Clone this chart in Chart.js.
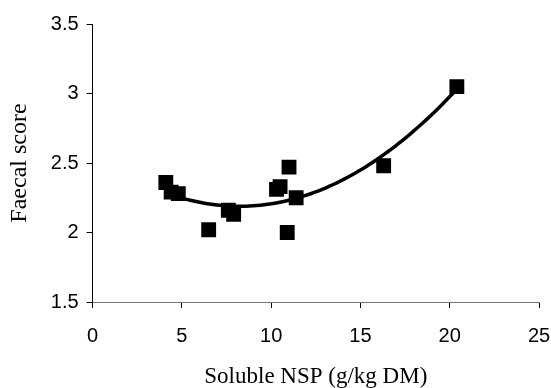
<!DOCTYPE html>
<html>
<head>
<meta charset="utf-8">
<script src="https://cdn.jsdelivr.net/npm/chart.js@4/dist/chart.umd.min.js"></script>
<style>
html,body{margin:0;padding:0;background:#fff;}
#wrap{width:551px;height:388px;position:relative;}
</style>
</head>
<body>
<div id="wrap"><canvas id="c" width="551" height="388"></canvas></div>
<script>
// Data
const solubleNSP = [4.1, 4.4, 4.8, 6.5, 7.6, 7.9, 10.3, 10.5, 11.0, 10.9, 11.4, 16.3, 20.4];
const faecalScore = [2.36, 2.29, 2.28, 2.02, 2.16, 2.13, 2.31, 2.33, 2.47, 2.00, 2.25, 2.48, 3.05];
const xTicks = [0, 5, 10, 15, 20, 25];
const yTicks = [1.5, 2, 2.5, 3, 3.5];

// Second-order polynomial trendline (least squares), as in the original spreadsheet chart
function quadFit(xs, ys) {
  let n = xs.length, s = [0,0,0,0,0], t = [0,0,0];
  for (let i = 0; i < n; i++) {
    let x = xs[i], y = ys[i], p = 1;
    for (let k = 0; k < 5; k++) { s[k] += p; if (k < 3) t[k] += p * y; p *= x; }
  }
  const A = [[s[0], s[1], s[2], t[0]], [s[1], s[2], s[3], t[1]], [s[2], s[3], s[4], t[2]]];
  for (let i = 0; i < 3; i++) {
    for (let j = i + 1; j < 3; j++) {
      const f = A[j][i] / A[i][i];
      for (let k = i; k < 4; k++) A[j][k] -= f * A[i][k];
    }
  }
  const c = [0,0,0];
  for (let i = 2; i >= 0; i--) {
    let v = A[i][3];
    for (let k = i + 1; k < 3; k++) v -= A[i][k] * c[k];
    c[i] = v / A[i][i];
  }
  return c;
}
const coef = quadFit(solubleNSP, faecalScore);
const xMin = Math.min(...solubleNSP), xMax = Math.max(...solubleNSP);
const trend = [];
for (let i = 0; i <= 80; i++) {
  const x = xMin + (xMax - xMin) * i / 80;
  trend.push({x: x, y: coef[0] + coef[1] * x + coef[2] * x * x});
}

const points = solubleNSP.map((x, i) => ({x: x, y: faecalScore[i]}));

new Chart(document.getElementById('c'), {
  type: 'scatter',
  data: {
    datasets: [
      {
        type: 'line',
        data: trend,
        borderColor: '#000',
        borderWidth: 3.5,
        pointRadius: 0,
        fill: false,
        tension: 0,
        order: 2
      },
      {
        data: points,
        pointStyle: 'rect',
        pointRadius: 10.5,
        pointBackgroundColor: '#000',
        pointBorderColor: '#000',
        pointBorderWidth: 0,
        order: 1
      }
    ]
  },
  options: {
    responsive: false,
    animation: false,
    events: [],
    layout: {padding: {top: 24, right: 0, left: 1, bottom: 0}},
    plugins: {legend: {display: false}, tooltip: {enabled: false}},
    scales: {
      x: {
        type: 'linear',
        min: 0, max: 25,
        afterBuildTicks: (s) => { s.ticks = xTicks.map(v => ({value: v})); },
        afterFit: (s) => { s.paddingRight = 12; s.paddingLeft = 12; },
        grid: {display: true, drawOnChartArea: false, tickLength: 6, color: '#000', tickColor: '#000', lineWidth: 1},
        border: {display: true, color: '#777', width: 1},
        ticks: {color: '#000', font: {family: 'Liberation Sans, Arial', size: 20}, padding: 16, maxRotation: 0},
        title: {display: true, text: 'Soluble NSP (g/kg DM)', color: '#000', font: {family: 'Liberation Serif, Times New Roman', size: 23, lineHeight: 1}, padding: {top: 1, bottom: 0}}
      },
      y: {
        type: 'linear',
        min: 1.5, max: 3.5,
        afterBuildTicks: (s) => { s.ticks = yTicks.map(v => ({value: v})); },
        grid: {display: true, drawOnChartArea: false, tickLength: 6, color: '#000', tickColor: '#000', lineWidth: 1},
        border: {display: true, color: '#000', width: 1},
        ticks: {color: '#000', font: {family: 'Liberation Sans, Arial', size: 20}, padding: 8, callback: (v) => String(v)},
        title: {display: true, text: 'Faecal score', color: '#000', font: {family: 'Liberation Serif, Times New Roman', size: 24}, padding: {top: 4, bottom: 9}}
      }
    }
  }
});
</script>
</body>
</html>
